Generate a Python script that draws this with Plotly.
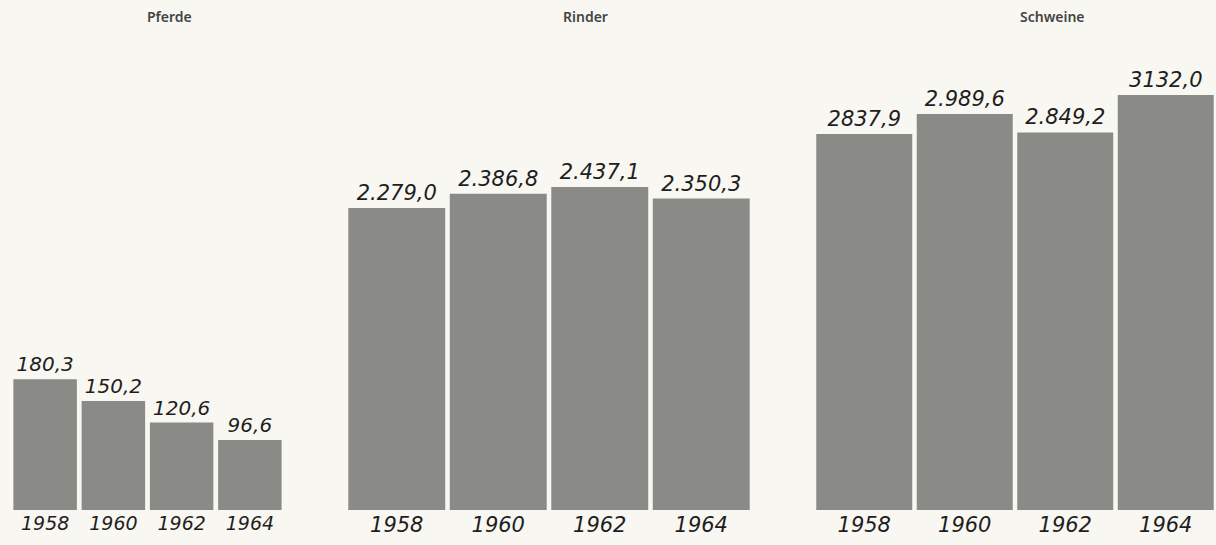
import plotly.graph_objects as go

years = ["1958", "1960", "1962", "1964"]
pferde = [180.3, 150.2, 120.6, 96.6]
rinder = [2279.0, 2386.8, 2437.1, 2350.3]
schweine = [2837.9, 2989.6, 2849.2, 3132.0]
pferde_labels = ["180,3", "150,2", "120,6", "96,6"]
rinder_labels = ["2.279,0", "2.386,8", "2.437,1", "2.350,3"]
schweine_labels = ["2837,9", "2.989,6", "2.849,2", "3132,0"]
titles = ["Pferde", "Rinder", "Schweine"]

W, H = 1216, 545
bar_color = "#8a8a87"
bg = "#f8f7f2"
ink = "#1e1e1e"
hand = dict(family="DejaVu Sans", style="italic", color=ink)

fig = go.Figure()
fig.add_trace(go.Bar(x=years, y=pferde, text=pferde_labels, textposition="outside",
                     textfont=dict(size=20, **hand), marker=dict(color=bar_color, line=dict(width=0)),
                     width=0.93, xaxis="x", yaxis="y", cliponaxis=False, showlegend=False,
                     hoverinfo="skip"))
fig.add_trace(go.Bar(x=years, y=rinder, text=rinder_labels, textposition="outside",
                     textfont=dict(size=21, **hand), marker=dict(color=bar_color, line=dict(width=0)),
                     width=0.955, xaxis="x2", yaxis="y2", cliponaxis=False, showlegend=False,
                     hoverinfo="skip"))
fig.add_trace(go.Bar(x=years, y=schweine, text=schweine_labels, textposition="outside",
                     textfont=dict(size=21, **hand), marker=dict(color=bar_color, line=dict(width=0)),
                     width=0.955, xaxis="x3", yaxis="y3", cliponaxis=False, showlegend=False,
                     hoverinfo="skip"))

ydom = [35 / H, 1]

def xax(d0, d1, anchor, size):
    return dict(domain=[d0 / W, d1 / W], anchor=anchor, showgrid=False, zeroline=False,
                showline=False, ticks="", tickfont=dict(size=size, **hand))

def yax(rng, anchor):
    return dict(domain=ydom, range=rng, anchor=anchor, visible=False, showgrid=False)

fig.update_layout(
    width=W, height=H,
    margin=dict(l=0, r=0, t=0, b=0),
    paper_bgcolor=bg, plot_bgcolor=bg,
    xaxis=xax(11, 284, "y", 19),
    xaxis2=xax(346, 752, "y2", 21),
    xaxis3=xax(814, 1216, "y3", 21),
    yaxis=yax([0, 510 / 0.725], "x"),
    yaxis2=yax([0, 510 / 0.1325], "x2"),
    yaxis3=yax([0, 510 / 0.1325], "x3"),
)

for t, cx in zip(titles, [169, 585, 1052]):
    fig.add_annotation(text=t, x=cx / W, y=1 - 16 / H, xref="paper", yref="paper",
                       showarrow=False, xanchor="center", yanchor="middle",
                       font=dict(family="Noto Sans", size=14, weight=600, color="#444444"))

fig.write_html("out.html", config={"displayModeBar": False},
               post_script="document.body.style.margin='0';document.body.style.overflow='hidden';")
